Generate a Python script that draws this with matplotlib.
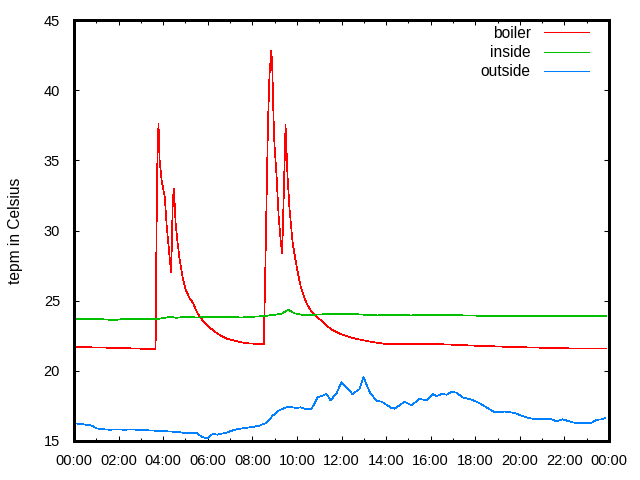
import matplotlib
matplotlib.use("Agg")
import matplotlib.pyplot as plt
from matplotlib.ticker import MultipleLocator

plt.rcParams['font.family'] = ['Liberation Sans', 'DejaVu Sans']

# hours since midnight / temperature in Celsius
boiler_h = [0, 1.5, 3.66, 3.70, 3.74, 3.79, 3.84, 3.93, 4.07, 4.16, 4.29, 4.36, 4.43, 4.48,
            4.56, 4.65, 4.74, 4.87, 5.0, 5.18, 5.35, 5.48, 5.64, 5.80, 5.95, 6.15, 6.40,
            6.6, 6.84, 7.1, 7.43, 7.88, 8.46,
            8.51, 8.53, 8.58, 8.63, 8.70, 8.77, 8.85, 8.89, 8.92, 8.95, 8.99, 9.09, 9.18,
            9.27, 9.34, 9.45, 9.49, 9.58, 9.67, 9.81, 9.99, 10.17, 10.30, 10.44, 10.60,
            10.79, 10.97, 11.15, 11.35, 11.55, 11.8, 12.0, 12.36, 12.90, 13.39, 14.07,
            16.4, 17.88, 19.63, 22.23, 23.85]
boiler_t = [21.7, 21.65, 21.55, 29.6, 34.9, 37.6, 35.0, 33.6, 32.4, 30.3, 28.1, 27.0, 32.0, 33.0,
            30.5, 29.1, 27.9, 26.7, 25.8, 25.2, 24.8, 24.3, 23.85, 23.55, 23.3, 23.0, 22.7,
            22.5, 22.3, 22.2, 22.05, 21.95, 21.9,
            21.9, 23.1, 27.0, 31.5, 37.5, 41.1, 42.8, 41.9, 40.0, 38.1, 36.2, 33.8, 31.0,
            29.3, 28.4, 35.0, 37.5, 33.8, 31.5, 29.1, 27.4, 26.0, 25.35, 24.8, 24.35,
            24.0, 23.75, 23.5, 23.2, 22.95, 22.75, 22.6, 22.4, 22.2, 22.05, 21.9,
            21.9, 21.8, 21.7, 21.6, 21.6]

inside_h = [0, 1.0, 1.8, 2.3, 3.0, 3.6, 4.0, 4.3, 4.6, 5.0, 5.5, 6.0, 7.0, 7.5, 8.0, 8.5,
            9.0, 9.3, 9.6, 9.9, 10.2, 10.5, 10.8, 11.5, 12.5, 13.0, 13.6, 14.5, 15.1,
            16.0, 17.0, 18.1, 23.85]
inside_t = [23.7, 23.7, 23.62, 23.7, 23.7, 23.68, 23.75, 23.85, 23.78, 23.85, 23.8, 23.83,
            23.85, 23.8, 23.85, 23.9, 24.0, 24.05, 24.35, 24.1, 24.0, 23.95, 24.0, 24.05,
            24.05, 24.0, 23.95, 24.0, 23.95, 24.0, 23.97, 23.93, 23.93]

outside_h = [0, 0.39, 0.79, 1.02, 1.24, 1.60, 1.96, 2.27, 2.50, 2.86, 3.84, 4.61, 4.97, 5.50,
             5.73, 5.91, 6.0, 6.22, 6.44, 6.84, 7.20, 7.56, 8.01, 8.33, 8.64, 8.91, 9.22,
             9.54, 9.80, 9.99, 10.17, 10.34, 10.66, 10.93, 11.33, 11.51, 11.78, 12.0, 12.49,
             12.81, 12.99, 13.26, 13.57, 13.80, 14.25, 14.38, 14.83, 15.14, 15.50, 15.82,
             16.09, 16.27, 16.49, 16.71, 16.94, 17.16, 17.43, 17.83, 18.19, 18.55, 18.86,
             19.18, 19.31, 19.54, 19.76, 20.08, 20.35, 20.75, 21.42, 21.64, 21.91, 22.22,
             22.45, 23.21, 23.43, 23.70, 23.84]
outside_t = [16.26, 16.2, 16.1, 15.9, 15.85, 15.8, 15.83, 15.8, 15.83, 15.8, 15.72, 15.65,
             15.57, 15.57, 15.3, 15.2, 15.2, 15.5, 15.45, 15.6, 15.8, 15.9, 16.0, 16.1, 16.3,
             16.8, 17.2, 17.4, 17.4, 17.35, 17.4, 17.3, 17.3, 18.1, 18.35, 17.9, 18.4, 19.2,
             18.35, 18.7, 19.55, 18.5, 17.85, 17.8, 17.35, 17.3, 17.8, 17.55, 18.0, 17.9,
             18.35, 18.2, 18.35, 18.3, 18.5, 18.45, 18.1, 17.95, 17.7, 17.35, 17.05, 17.05,
             17.1, 17.05, 17.0, 16.8, 16.65, 16.55, 16.55, 16.4, 16.55, 16.4, 16.3, 16.3,
             16.5, 16.55, 16.65]

xticks = list(range(0, 25, 2))
xlabels = ["%02d:00" % (h % 24) for h in xticks]

fig = plt.figure(figsize=(6.4, 4.8), dpi=100)
ax = fig.add_axes([74 / 640, 1 - 441 / 480, 535 / 640, 421 / 480])

ax.plot(boiler_h, boiler_t, color="#ff0000", lw=0.5, antialiased=False, label="boiler")
ax.plot(inside_h, inside_t, color="#00c000", lw=0.5, antialiased=False, label="inside")
ax.plot(outside_h, outside_t, color="#0080ff", lw=0.5, antialiased=False, label="outside")

ax.set_xlim(0, 24)
ax.set_ylim(15, 45)
ax.set_xticks(xticks)
ax.set_xticklabels(xlabels)
ax.xaxis.set_minor_locator(MultipleLocator(1))
ax.yaxis.set_major_locator(MultipleLocator(5))
ax.tick_params(which="both", direction="in", top=True, right=True, labelsize=10.5, width=0.75)
ax.tick_params(axis="x", pad=9.5)
ax.tick_params(axis="y", pad=10)
ax.tick_params(which="major", length=3.6)
ax.tick_params(which="minor", length=2)
for s in ax.spines.values():
    s.set_linewidth(0.75)
    s.set_antialiased(False)

fig.text(16 / 640, 0.52, "tepm in Celsius", rotation=90, ha="center", va="center", fontsize=11.2)

leg = ax.legend(loc="upper right", bbox_to_anchor=((589 - 74) / 535, (441 - 25.8) / 421),
                frameon=False, markerfirst=False, fontsize=11.2, borderpad=0, borderaxespad=0,
                handlelength=2.9, labelspacing=0.27, handletextpad=0.85)
for line in leg.get_lines():
    line.set_linewidth(0.75)

fig.savefig("out.png", dpi=100)
